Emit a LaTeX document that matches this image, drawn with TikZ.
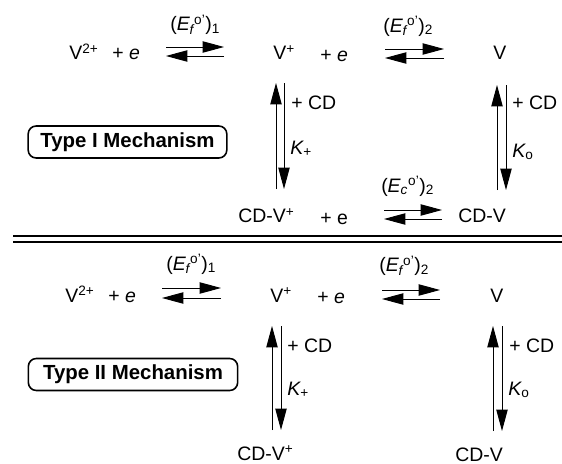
\documentclass[tikz,border=0pt]{standalone}
\usepackage{fontspec}
\setmainfont{Liberation Sans}
\usetikzlibrary{arrows.meta}
\tikzset{
    lbl/.style={anchor=base west,inner sep=0pt,font=\fontsize{14.6}{17}\selectfont},
    mech/.style={draw,line width=1.2pt,rounded corners=6pt,minimum height=24pt,inner sep=0pt,font=\fontsize{15.3}{17}\selectfont\bfseries},
    eqarrow/.style={line width=0.65pt,-{Triangle[length=16pt,width=8.5pt]}},
    rule/.style={line width=1.2pt},
}
\newcommand{\Eo}[2]{({\itshape E}\textsubscript{\itshape #1}\textsuperscript{o'})\textsubscript{#2}}

\begin{document}
\begin{tikzpicture}[x=0.75pt,y=-0.75pt]
    \useasboundingbox (0,0) rectangle (562,464);

    % species, top half then bottom half
    \foreach \n/\x/\y/\t in {a/69/60/V\textsuperscript{2+},b/273/60/V\textsuperscript{+},c/493/60/V,d/65/302/V\textsuperscript{2+},e/270/302/V\textsuperscript{+},f/490/302/V} {
      \node[lbl] at (\x,\y) (v\n) {\t};
    }
    \foreach \n/\x/\y in {a/112/60,b/320/61,d/108/302,e/317/303} {
      \node[lbl] at (\x,\y) (pe\n) {+ {\itshape e}};
    }
    \node[lbl] at (238,223) (cdvp) {CD-V\textsuperscript{+}};
    \node[lbl] at (320,224) (pec) {+ e};
    \node[lbl] at (458,222) (cdv) {CD-V};
    \node[lbl] at (237,460) (cdvpb) {CD-V\textsuperscript{+}};
    \node[lbl] at (455,461) (cdvb) {CD-V};

    % potentials
    \node[lbl] at (170,31) (ef1) {\Eo{f}{1}};
    \node[lbl] at (383,32) (ef2) {\Eo{f}{2}};
    \node[lbl] at (381,192) (ec2) {\Eo{c}{2}};
    \node[lbl] at (166,270) (ef1b) {\Eo{f}{1}};
    \node[lbl] at (379,272) (ef2b) {\Eo{f}{2}};

    % binding labels
    \foreach \n/\x/\y in {a/291/109,b/512/109,c/287/352,d/509/352} {
      \node[lbl] at (\x,\y) (cd\n) {+ CD};
    }
    \node[lbl] at (290,154) (kp) {{\itshape K}\textsubscript{+}};
    \node[lbl] at (512,157) (ko) {{\itshape K}\textsubscript{o}};
    \node[lbl] at (287,395) (kpb) {{\itshape K}\textsubscript{+}};
    \node[lbl] at (508,395) (kob) {{\itshape K}\textsubscript{o}};

    \node[mech,minimum width=149pt] at (127.5,142) (typeone) {Type I Mechanism};
    \node[mech,minimum width=157pt] at (133,374.5) (typetwo) {Type II Mechanism};

    % horizontal equilibria
    \foreach \n/\l/\r/\u/\d in {a/166/224/47/56,b/385/444/49/58,c/384/442/210/219,d/162/221/288/298,e/382/440/290/299} {
      \coordinate (h\n1) at (\l,\u);
      \coordinate (h\n2) at (\r,\u);
      \coordinate (h\n3) at (\r,\d);
      \coordinate (h\n4) at (\l,\d);
      \draw[eqarrow] (h\n1) -- (h\n2);
      \draw[eqarrow] (h\n3) -- (h\n4);
    }

    % vertical equilibria
    \foreach \n/\l/\r/\t/\b in {a/276/284/83/189,b/497/506/85/190,c/272/281/326/430,d/493/502/326/431} {
      \coordinate (u\n1) at (\l,\b);
      \coordinate (u\n2) at (\l,\t);
      \coordinate (u\n3) at (\r,\t);
      \coordinate (u\n4) at (\r,\b);
      \draw[eqarrow] (u\n1) -- (u\n2);
      \draw[eqarrow] (u\n3) -- (u\n4);
    }

    \coordinate (rule1l) at (13,236);
    \coordinate (rule1r) at (562,236);
    \coordinate (rule2l) at (13,242);
    \coordinate (rule2r) at (562,242);
    \draw[rule] (rule1l) -- (rule1r);
    \draw[rule] (rule2l) -- (rule2r);
\end{tikzpicture}
\end{document}
